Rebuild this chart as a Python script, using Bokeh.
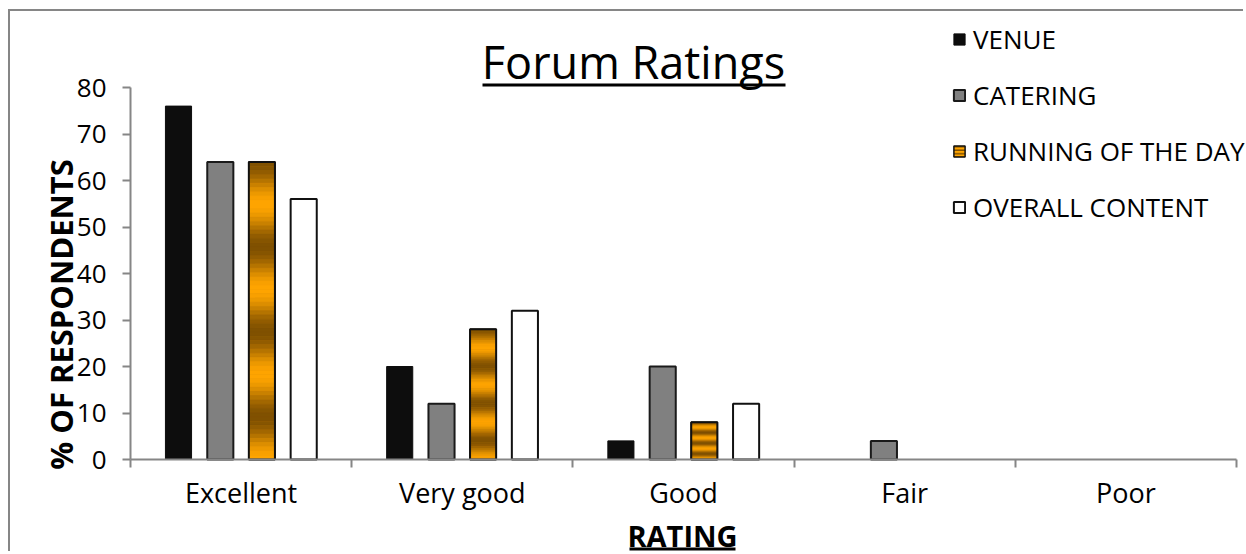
import math
from bokeh.plotting import figure
from bokeh.models import (Range1d, LinearAxis, FixedTicker, Label, BoxAnnotation,
                          Legend, LegendItem, ColumnDataSource)
from bokeh.transform import dodge
from bokeh.embed import file_html
from bokeh.resources import INLINE

# ---------------- data ----------------
categories = ["Excellent", "Very good", "Good", "Fair", "Poor"]
series_names = ["VENUE", "CATERING", "RUNNING OF THE DAY", "OVERALL CONTENT"]
venue = [76, 20, 4, 0, 0]
catering = [64, 12, 20, 4, 0]
running = [64, 28, 8, 0, 0]
overall = [56, 32, 12, 0, 0]
y_ticks = [0, 10, 20, 30, 40, 50, 60, 70, 80]

title_text = "Forum Ratings"
x_label = "RATING"
y_label = "% OF RESPONDENTS"

# ---------------- style / layout (pixels) ----------------
FONT = "Open Sans"
AXIS_GRAY = "#868686"
DARK = (0x7f, 0x50, 0x00)
ORANGE = (0xff, 0xa5, 0x00)

W, H = 1235, 542              # canvas size
OX, OY = 10, 11               # canvas origin on the page (margin + border)
AX_L, AX_R = 130, 1236        # x-axis span on the page
Y0, Y80 = 459, 87             # page rows of 0 and 80

n = len(categories)
centers = [i + 0.5 for i in range(n)]
cat_pos = dict(zip(categories, centers))

ppx = (AX_R - AX_L) / n
x_start = -(AX_L - OX) / ppx
ppy = (Y0 - Y80) / 80.0
y_start = -(OY + H - Y0) / ppy


def sx(page_x):   # page x -> frame screen x
    return page_x - OX


def sy(page_y):   # page y -> frame screen y (from bottom)
    return OY + H - page_y


p = figure(width=W, height=H,
           x_range=Range1d(x_start, x_start + W / ppx),
           y_range=Range1d(y_start, y_start + H / ppy),
           output_backend="svg", toolbar_location=None,
           x_axis_location=None, y_axis_location=None,
           min_border_left=0, min_border_right=0, min_border_top=0, min_border_bottom=0)
p.outline_line_color = None
p.grid.visible = False
p.styles = {"margin-left": "8px", "margin-top": "9px",
            "border-left": "2px solid " + AXIS_GRAY, "border-top": "2px solid " + AXIS_GRAY}

# y axis
yaxis = LinearAxis(ticker=FixedTicker(ticks=y_ticks), bounds=(0, 80), fixed_location=0)
yaxis.axis_line_color = AXIS_GRAY
yaxis.axis_line_width = 2
yaxis.major_tick_line_color = AXIS_GRAY
yaxis.major_tick_line_width = 2
yaxis.major_tick_out = 8
yaxis.major_tick_in = 0
yaxis.minor_tick_line_color = None
yaxis.major_label_text_font = FONT
yaxis.major_label_text_font_size = "26px"
yaxis.major_label_text_color = "#000000"
yaxis.major_label_standoff = 16
p.add_layout(yaxis, "left")

# x axis: labels at category centres, ticks at category boundaries
xaxis = LinearAxis(ticker=FixedTicker(ticks=centers, minor_ticks=list(range(n + 1))),
                   major_label_overrides={cat_pos[c]: c for c in categories},
                   bounds=(0, n), fixed_location=0)
xaxis.axis_line_color = AXIS_GRAY
xaxis.axis_line_width = 2
xaxis.major_tick_line_color = None
xaxis.major_tick_out = 0
xaxis.major_tick_in = 0
xaxis.minor_tick_line_color = AXIS_GRAY
xaxis.minor_tick_line_width = 2
xaxis.minor_tick_out = 8
xaxis.minor_tick_in = 0
xaxis.major_label_text_font = FONT
xaxis.major_label_text_font_size = "27px"
xaxis.major_label_text_color = "#000000"
xaxis.major_label_standoff = 6
p.add_layout(xaxis, "below")

offsets = [-0.283, -0.094, 0.094, 0.283]
BAR_W = 0.118


def nz(vals):
    xs = [cat_pos[c] for c, v in zip(categories, vals) if v > 0]
    vs = [v for v in vals if v > 0]
    return ColumnDataSource(dict(pos=xs, val=vs))


# VENUE
r_venue = p.vbar(x=dodge("pos", offsets[0]), top="val", width=BAR_W,
                 source=nz(venue), fill_color="#0d0d0d", line_color="#0d0d0d", line_width=1)
# CATERING
r_cat = p.vbar(x=dodge("pos", offsets[1]), top="val", width=BAR_W,
               source=nz(catering), fill_color="#808080", line_color="#1a1a1a", line_width=2)

# RUNNING OF THE DAY: base bar (striped, used by the legend), gradient slices, outline
r_run = p.vbar(x=dodge("pos", offsets[2]), top="val", width=BAR_W, source=nz(running),
               fill_color="#ffa500", hatch_pattern="horizontal_line", hatch_color="#7f5000",
               hatch_scale=3.5, hatch_weight=1.5, line_color="#111111", line_width=1.5)
N = 70
g = dict(pos=[], bottom=[], top=[], color=[])
for c, v in zip(categories, running):
    if v <= 0:
        continue
    for k in range(N):
        t0, t1 = k / N, (k + 1) / N
        tm = (t0 + t1) / 2
        w = (1 - math.cos(2 * math.pi * 3.5 * tm)) / 2
        col = tuple(int(round(DARK[i] + (ORANGE[i] - DARK[i]) * w)) for i in range(3))
        g["pos"].append(cat_pos[c])
        g["top"].append(v * (1 - t0))
        g["bottom"].append(v * (1 - t1))
        g["color"].append("#%02x%02x%02x" % col)
p.vbar(x=dodge("pos", offsets[2]), top="top", bottom="bottom", width=BAR_W,
       source=ColumnDataSource(g), fill_color="color", line_color="color", line_width=0.6)
p.vbar(x=dodge("pos", offsets[2]), top="val", width=BAR_W,
       source=nz(running), fill_alpha=0, line_color="#111111", line_width=2)

# OVERALL CONTENT
r_over = p.vbar(x=dodge("pos", offsets[3]), top="val", width=BAR_W,
                source=nz(overall), fill_color="#ffffff", line_color="#111111", line_width=2)

legend = Legend(items=[LegendItem(label=series_names[0], renderers=[r_venue]),
                       LegendItem(label=series_names[1], renderers=[r_cat]),
                       LegendItem(label=series_names[2], renderers=[r_run]),
                       LegendItem(label=series_names[3], renderers=[r_over])],
                location=(sx(952), sy(225)), orientation="vertical",
                glyph_width=14, glyph_height=14, label_standoff=7,
                label_text_font=FONT, label_text_font_size="26px", label_text_color="#000000",
                spacing=20, padding=0, margin=0,
                border_line_color=None, background_fill_alpha=0)
p.add_layout(legend)


def underline(x0, x1, y_top, thick):
    p.add_layout(BoxAnnotation(left=sx(x0), right=sx(x1), top=sy(y_top), bottom=sy(y_top + thick),
                               left_units="screen", right_units="screen",
                               bottom_units="screen", top_units="screen",
                               fill_color="#000000", fill_alpha=1, line_color=None))


# title + underline
p.add_layout(Label(x=sx(633), y=sy(61), x_units="screen", y_units="screen", text=title_text,
                   text_font=FONT, text_font_size="45px", text_color="#000000",
                   text_align="center", text_baseline="alphabetic"))
underline(482, 785, 83, 3)

# x label + underline
p.add_layout(Label(x=sx(682), y=sy(535), x_units="screen", y_units="screen", text=x_label,
                   text_font=FONT, text_font_size="29px", text_font_style="bold",
                   text_color="#000000", text_align="center", text_baseline="alphabetic"))
underline(629, 735, 547, 3)

# y label
p.add_layout(Label(x=sx(60), y=sy(314), x_units="screen", y_units="screen", text=y_label,
                   angle=math.pi / 2, text_font=FONT, text_font_size="31px",
                   text_font_style="bold", text_color="#000000",
                   text_align="center", text_baseline="middle"))

open("out.html", "w").write(file_html(p, INLINE))
